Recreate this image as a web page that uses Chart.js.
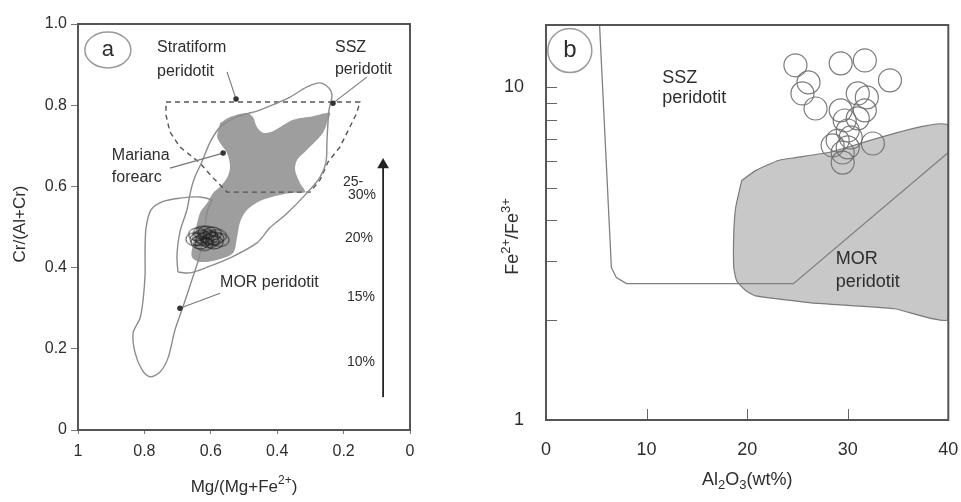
<!DOCTYPE html>
<html><head><meta charset="utf-8">
<script src="https://cdn.jsdelivr.net/npm/chart.js@4.4.1/dist/chart.umd.min.js"></script>
<style>
html,body{margin:0;padding:0;background:#fff;overflow:hidden;}
#ca{position:absolute;left:0;top:0;}
#cb{position:absolute;left:480px;top:0;}
</style></head><body>
<canvas id="ca" width="480" height="502"></canvas>
<canvas id="cb" width="481" height="502"></canvas>
<script>
// ================= Panel a: Cr# vs Mg# =================
const aXTicks = [0, 0.2, 0.4, 0.6, 0.8, 1];
const aYTicks = [0, 0.2, 0.4, 0.6, 0.8, 1];
// samples (open circles)
const aSampleMg = [0.648,0.640,0.632,0.625,0.618,0.610,0.603,0.595,0.588,0.580,0.572,0.636,0.620,0.605,0.590,0.628,0.612,0.598];
const aSampleCr = [0.470,0.482,0.462,0.486,0.470,0.478,0.465,0.484,0.472,0.478,0.468,0.470,0.458,0.474,0.462,0.476,0.486,0.470];
// SSZ peridotite field outline
const aSszMg = [0.699,0.702,0.693,0.672,0.660,0.648,0.627,0.602,0.572,0.521,0.452,0.407,0.361,0.310,0.271,0.244,0.235,0.244,0.250,0.253,0.271,0.310,0.370,0.422,0.461,0.542,0.611,0.663,0.699];
const aSszCr = [0.389,0.431,0.488,0.542,0.591,0.623,0.660,0.709,0.746,0.771,0.788,0.803,0.820,0.845,0.855,0.842,0.823,0.788,0.714,0.660,0.623,0.584,0.534,0.498,0.461,0.424,0.401,0.387,0.389];
// MOR peridotite field outline
const aMorMg = [0.596,0.611,0.620,0.633,0.654,0.684,0.708,0.729,0.753,0.783,0.807,0.828,0.834,0.813,0.804,0.798,0.798,0.795,0.780,0.747,0.693,0.633,0.596];
const aMorCr = [0.567,0.537,0.488,0.431,0.377,0.303,0.246,0.177,0.143,0.131,0.148,0.190,0.239,0.276,0.320,0.382,0.443,0.498,0.542,0.562,0.571,0.574,0.567];
// Mariana forearc (grey field)
const aMarMg = [0.572,0.542,0.491,0.473,0.461,0.443,0.413,0.352,0.292,0.241,0.247,0.262,0.310,0.340,0.346,0.331,0.316,0.361,0.443,0.491,0.512,0.521,0.533,0.581,0.633,0.657,0.654,0.633,0.611,0.593,0.572,0.551,0.542,0.551,0.572,0.581,0.572];
const aMarCr = [0.756,0.771,0.781,0.771,0.746,0.732,0.736,0.764,0.773,0.781,0.764,0.732,0.690,0.665,0.640,0.608,0.586,0.584,0.567,0.542,0.512,0.475,0.436,0.419,0.414,0.426,0.456,0.534,0.559,0.584,0.599,0.621,0.648,0.682,0.707,0.722,0.756];
// Stratiform peridotite (dashed field)
const aStrMg = [0.735,0.151,0.160,0.211,0.247,0.271,0.301,0.551,0.593,0.633,0.693,0.723,0.735,0.735];
const aStrCr = [0.808,0.808,0.781,0.697,0.660,0.616,0.586,0.586,0.621,0.658,0.697,0.734,0.776,0.808];
// leader lines (label end -> field end)
const aLeadStratMg = [0.551,0.524], aLeadStratCr = [0.882,0.815];
const aLeadSszMg   = [0.130,0.232], aLeadSszCr   = [0.869,0.805];
const aLeadMarMg   = [0.723,0.563], aLeadMarCr   = [0.645,0.682];
const aLeadMorMg   = [0.572,0.693], aLeadMorCr   = [0.337,0.300];
// melting arrow
const aArrowMg = [0.081,0.081], aArrowCr = [0.081,0.653];

// ================= Panel b: Fe2+/Fe3+ vs Al2O3 =================
const bXTicks = [0, 10, 20, 30, 40];
const bYTicks = [1, 2, 3, 4, 5, 6, 7, 8, 9, 10];
const bSampleAl = [24.8,29.3,31.7,26.1,34.2,25.5,26.8,31.0,31.9,29.3,31.7,29.7,31.0,30.0,29.0,30.3,28.5,32.5,29.5,29.5,30.0];
const bSampleFe = [11.65,11.81,12.05,10.35,10.5,9.59,8.64,9.59,9.33,8.53,8.53,7.95,8.07,7.42,6.92,7.07,6.69,6.78,6.37,5.94,6.6];
// MOR peridotite field (grey)
const bMorAl = [19.46,20.84,23.1,24.8,28.05,40,40,34.67,26.37,20.84,19.85,18.96,18.67,18.67,18.86,19.46];
const bMorFe = [5.25,5.62,6.03,6.15,6.37,7.68,2.01,2.16,2.25,2.36,2.45,2.62,2.87,3.63,4.35,5.25];
// SSZ peridotite boundary line
const bSszAl = [5.3,6.5,7.0,8.0,24.6,40];
const bSszFe = [16,2.87,2.68,2.57,2.57,6.37];

// ================= helpers =================
const FONT = '"Liberation Sans", Arial, Helvetica, sans-serif';
const TXT = '#2e2e2e';
const pts = (xs, ys) => xs.map((x, i) => ({x: x, y: ys[i]}));

function drawRich(ctx, segs, x, y, size, align) {
  ctx.save();
  ctx.textBaseline = 'middle'; ctx.textAlign = 'left'; ctx.fillStyle = TXT;
  const sz = s => (s.sup || s.sub) ? Math.round(size * 0.72) : size;
  let w = 0;
  for (const s of segs) { ctx.font = sz(s) + 'px ' + FONT; w += ctx.measureText(s.t).width; }
  let cx = align === 'center' ? x - w / 2 : x;
  for (const s of segs) {
    ctx.font = sz(s) + 'px ' + FONT;
    const dy = s.sup ? -size * 0.38 : (s.sub ? size * 0.3 : 0);
    ctx.fillText(s.t, cx, y + dy);
    cx += ctx.measureText(s.t).width;
  }
  ctx.restore();
}

function makeDecor(cfg) {
  return {
    id: 'decor' + cfg.id,
    afterDraw(chart) {
      const ctx = chart.ctx, a = chart.chartArea, xs = chart.scales.x, ys = chart.scales.y;
      if (cfg.innerTicks) {
        ctx.save(); ctx.strokeStyle = '#666'; ctx.lineWidth = 1;
        for (const v of cfg.innerTicks.y) {
          const py = Math.round(ys.getPixelForValue(v)) + 0.5;
          ctx.beginPath(); ctx.moveTo(a.left, py); ctx.lineTo(a.left + 11, py); ctx.stroke();
        }
        for (const v of cfg.innerTicks.x) {
          const px = Math.round(xs.getPixelForValue(v)) + 0.5;
          ctx.beginPath(); ctx.moveTo(px, a.bottom); ctx.lineTo(px, a.bottom - 11); ctx.stroke();
        }
        ctx.restore();
      }
      ctx.save(); ctx.strokeStyle = '#555'; ctx.lineWidth = 2;
      ctx.strokeRect(a.left, a.top, a.right - a.left, a.bottom - a.top); ctx.restore();
      // panel badge
      const b = cfg.badge;
      const bx = xs.getPixelForValue(b.x), by = ys.getPixelForValue(b.y);
      ctx.save(); ctx.strokeStyle = '#999'; ctx.lineWidth = 1.5;
      ctx.beginPath(); ctx.ellipse(bx, by, b.rx, b.ry, 0, 0, Math.PI * 2); ctx.stroke(); ctx.restore();
      drawRich(ctx, [{t: b.t}], bx, by, b.size, 'center');
      for (const n of cfg.notes) {
        drawRich(ctx, n.segs || [{t: n.t}], xs.getPixelForValue(n.x), ys.getPixelForValue(n.y), n.size, n.align || 'left');
      }
      const cxm = (a.left + a.right) / 2, cym = (a.top + a.bottom) / 2;
      drawRich(ctx, cfg.xTitle, cxm, a.bottom + cfg.xTitleDy, cfg.titleSize, 'center');
      ctx.save(); ctx.translate(cfg.yTitleX, cym + cfg.yTitleDy); ctx.rotate(-Math.PI / 2);
      drawRich(ctx, cfg.yTitle, 0, 0, cfg.titleSize, 'center'); ctx.restore();
    }
  };
}

function ellipseMarker(w, h, color) {
  const c = document.createElement('canvas');
  c.width = w + 4; c.height = h + 4;
  const g = c.getContext('2d');
  g.strokeStyle = color; g.lineWidth = 1;
  g.beginPath(); g.ellipse(c.width / 2, c.height / 2, w / 2, h / 2, 0, 0, Math.PI * 2); g.stroke();
  return c;
}

const lineDs = (data, color, extra) => Object.assign({
  data: data, showLine: true, borderColor: color, borderWidth: 1.4, pointRadius: 0, fill: false, tension: 0
}, extra || {});

const leader = (data) => ({
  data: data, showLine: true, borderColor: '#777', borderWidth: 1.1, fill: false,
  pointRadius: [0, 2.2], pointBackgroundColor: '#333', pointBorderColor: '#333', order: 1
});

const fixX = h => s => { s.height = h; s.paddingLeft = 0; s.paddingRight = 0; };
const fixY = w => s => { s.width = w; s.paddingTop = 0; s.paddingBottom = 0; };

// ================= Chart a =================
const fmtA = (v, isY) => v === 0 ? '0' : (v === 1 ? (isY ? '1.0' : '1') : String(+v.toFixed(1)));

new Chart(document.getElementById('ca'), {
  type: 'scatter',
  data: { datasets: [
    { data: pts(aSampleMg, aSampleCr), pointStyle: ellipseMarker(18, 13, 'rgba(30,30,30,0.85)'), pointRadius: 9, order: 0 },
    Object.assign(lineDs(pts(aArrowMg, aArrowCr), '#222', { borderWidth: 1.8, pointStyle: 'triangle', pointRadius: [0, 5], pointBackgroundColor: '#222', pointBorderColor: '#222' }), { order: 1 }),
    leader(pts(aLeadStratMg, aLeadStratCr)),
    leader(pts(aLeadSszMg, aLeadSszCr)),
    leader(pts(aLeadMarMg, aLeadMarCr)),
    leader(pts(aLeadMorMg, aLeadMorCr)),
    lineDs(pts(aSszMg, aSszCr), '#8c8c8c', { tension: 0.3, order: 2 }),
    lineDs(pts(aMorMg, aMorCr), '#8c8c8c', { tension: 0.3, order: 2 }),
    lineDs(pts(aStrMg, aStrCr), '#555', { borderDash: [5, 4], borderWidth: 1.4, order: 3 }),
    lineDs(pts(aMarMg, aMarCr), 'rgba(0,0,0,0)', { fill: 'shape', backgroundColor: '#9e9e9e', borderWidth: 0, tension: 0.3, order: 4 })
  ]},
  options: {
    responsive: false, animation: false,
    layout: { padding: { top: 24, right: 70, left: 0, bottom: 0 } },
    plugins: { legend: { display: false }, tooltip: { enabled: false } },
    scales: {
      x: { type: 'linear', reverse: true, min: 0, max: 1,
        afterBuildTicks: s => { s.ticks = aXTicks.map(v => ({ value: v })); },
        afterFit: fixX(72),
        ticks: { callback: v => fmtA(v, false), color: TXT, font: { family: FONT, size: 16 }, padding: 8, maxRotation: 0, autoSkip: false },
        grid: { display: true, drawOnChartArea: false, drawTicks: true, tickLength: 4, color: '#777' },
        border: { display: false } },
      y: { type: 'linear', min: 0, max: 1,
        afterBuildTicks: s => { s.ticks = aYTicks.map(v => ({ value: v })); },
        afterFit: fixY(78),
        ticks: { callback: v => fmtA(v, true), color: TXT, font: { family: FONT, size: 16 }, padding: 4, autoSkip: false },
        grid: { display: true, drawOnChartArea: false, drawTicks: true, tickLength: 7, color: '#777' },
        border: { display: false } }
    }
  },
  plugins: [makeDecor({
    id: 'a',
    badge: { t: 'a', x: 0.910, y: 0.936, rx: 23, ry: 18, size: 22 },
    notes: [
      { t: 'Stratiform', x: 0.762, y: 0.941, size: 16 },
      { t: 'peridotit', x: 0.762, y: 0.882, size: 16 },
      { t: 'SSZ', x: 0.226, y: 0.943, size: 16 },
      { t: 'peridotit', x: 0.226, y: 0.887, size: 16 },
      { t: 'Mariana', x: 0.898, y: 0.677, size: 16 },
      { t: 'forearc', x: 0.898, y: 0.621, size: 16 },
      { t: 'MOR peridotit', x: 0.572, y: 0.362, size: 16 },
      { t: '25-', x: 0.202, y: 0.611, size: 14 },
      { t: '30%', x: 0.187, y: 0.579, size: 14 },
      { t: '20%', x: 0.196, y: 0.473, size: 14 },
      { t: '15%', x: 0.190, y: 0.328, size: 14 },
      { t: '10%', x: 0.190, y: 0.168, size: 14 }
    ],
    xTitle: [{ t: 'Mg/(Mg+Fe' }, { t: '2+', sup: true }, { t: ')' }],
    xTitleDy: 57,
    yTitle: [{ t: 'Cr/(Al+Cr)' }],
    yTitleX: 20, yTitleDy: -3,
    titleSize: 17
  })]
});

// ================= Chart b =================
new Chart(document.getElementById('cb'), {
  type: 'scatter',
  data: { datasets: [
    { data: pts(bSampleAl, bSampleFe), pointRadius: 11.5, borderColor: 'rgba(110,110,110,0.9)', borderWidth: 1.2, backgroundColor: 'rgba(0,0,0,0)', order: 0 },
    lineDs(pts(bSszAl, bSszFe), '#808080', { borderWidth: 1.3, order: 1 }),
    lineDs(pts(bMorAl, bMorFe), '#7a7a7a', { fill: 'shape', backgroundColor: '#c8c8c8', borderWidth: 1.2, tension: 0.15, order: 2 })
  ]},
  options: {
    responsive: false, animation: false,
    layout: { padding: { top: 25, right: 10, left: 0, bottom: 0 } },
    plugins: { legend: { display: false }, tooltip: { enabled: false } },
    scales: {
      x: { type: 'linear', min: 0, max: 40,
        afterBuildTicks: s => { s.ticks = bXTicks.map(v => ({ value: v })); },
        afterFit: fixX(82),
        ticks: { color: TXT, font: { family: FONT, size: 18 }, padding: 11, maxRotation: 0, autoSkip: false },
        grid: { display: false }, border: { display: false } },
      y: { type: 'logarithmic', min: 1, max: 15.4,
        afterBuildTicks: s => { s.ticks = bYTicks.map(v => ({ value: v })); },
        afterFit: fixY(66),
        ticks: { callback: v => (v === 1 || v === 10) ? String(v) : '', color: TXT, font: { family: FONT, size: 18 }, padding: 14, autoSkip: false },
        grid: { display: false }, border: { display: false } }
    }
  },
  plugins: [makeDecor({
    id: 'b',
    innerTicks: { y: bYTicks.slice(1), x: bXTicks.slice(1, 4) },
    badge: { t: 'b', x: 2.37, y: 12.9, rx: 22, ry: 22, size: 24 },
    notes: [
      { t: 'SSZ', x: 11.56, y: 10.7, size: 18 },
      { t: 'peridotit', x: 11.56, y: 9.26, size: 18 },
      { t: 'MOR', x: 28.8, y: 3.05, size: 18 },
      { t: 'peridotit', x: 28.8, y: 2.59, size: 18 }
    ],
    xTitle: [{ t: 'Al' }, { t: '2', sub: true }, { t: 'O' }, { t: '3', sub: true }, { t: '(wt%)' }],
    xTitleDy: 60,
    yTitle: [{ t: 'Fe' }, { t: '2+', sup: true }, { t: '/Fe' }, { t: '3+', sup: true }],
    yTitleX: 33, yTitleDy: 14,
    titleSize: 18
  })]
});
</script>
</body></html>
